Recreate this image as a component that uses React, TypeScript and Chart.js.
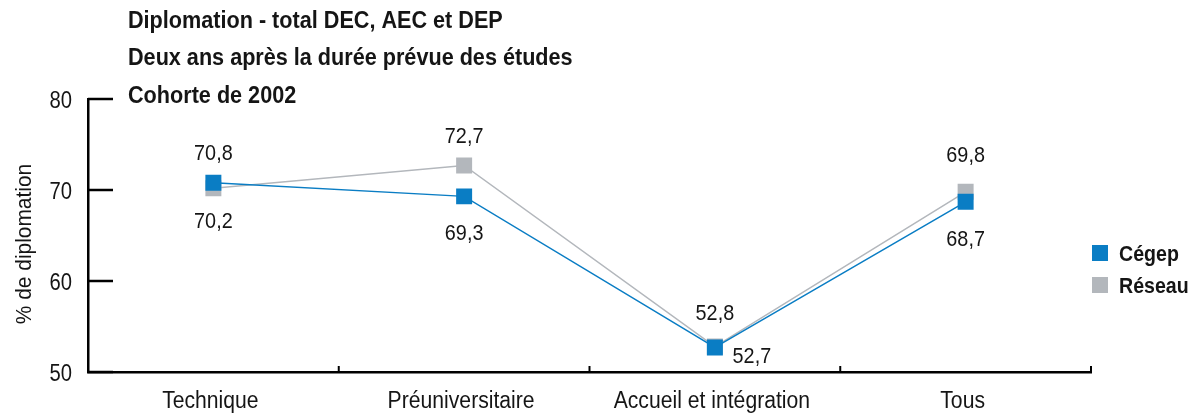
import React, { useEffect, useRef } from 'react';
import { Chart, registerables } from 'chart.js';

Chart.register(...registerables);

const categories = ['Technique', 'Préuniversitaire', 'Accueil et intégration', 'Tous'];
const cegepValues = [70.8, 69.3, 52.7, 68.7];
const reseauValues = [70.2, 72.7, 52.8, 69.8];
const yTicks = [50, 60, 70, 80];
const seriesNames = ['Cégep', 'Réseau'];
const titleLines = [
  'Diplomation - total DEC, AEC et DEP',
  'Deux ans après la durée prévue des études',
  'Cohorte de 2002',
];
const yAxisTitle = '% de diplomation';

const BLUE = '#0a7dc4';
const GREY = '#b3b7bc';
const TEXT = '#151515';
const FONT = '"Liberation Sans", Arial, sans-serif';

// label offsets (dx, dy) of the label centre relative to each point
const cegepLabelOffsets = [[0, -31], [0, 36], [37, 8], [0, 36]];
const reseauLabelOffsets = [[0, 32], [0, -30], [0, -35], [0, -38]];

const fmt = (v: number) => v.toFixed(1).replace('.', ',');

function drawText(
  ctx: CanvasRenderingContext2D,
  text: string,
  x: number,
  y: number,
  font: string,
  sx: number,
  align: CanvasTextAlign,
) {
  ctx.save();
  ctx.font = font;
  ctx.textAlign = align;
  ctx.textBaseline = 'alphabetic';
  ctx.fillStyle = TEXT;
  ctx.translate(x, y);
  ctx.scale(sx, 1);
  ctx.fillText(text, 0, 0);
  ctx.restore();
}

const decorPlugin = {
  id: 'decor',
  afterDraw(chart: any) {
    const { ctx, chartArea, scales } = chart;
    const x = scales.x;
    const y = scales.y;
    ctx.save();
    // inner y ticks
    ctx.strokeStyle = '#000';
    ctx.lineWidth = 2.5;
    yTicks.forEach((t) => {
      const py = Math.round(y.getPixelForValue(t));
      ctx.beginPath();
      ctx.moveTo(chartArea.left, py);
      ctx.lineTo(chartArea.left + 25, py);
      ctx.stroke();
    });
    // inner x ticks at category boundaries
    ctx.lineWidth = 2;
    const step = x.getPixelForValue(1) - x.getPixelForValue(0);
    for (let i = 0; i < categories.length; i++) {
      const px = x.getPixelForValue(i) + step / 2;
      ctx.beginPath();
      ctx.moveTo(px, chartArea.bottom);
      ctx.lineTo(px, chartArea.bottom - 6);
      ctx.stroke();
    }
    ctx.restore();

    // y tick labels
    yTicks.forEach((t) => {
      drawText(ctx, String(t), chartArea.left - 16, y.getPixelForValue(t) + 8.5, `23px ${FONT}`, 0.88, 'right');
    });
    // x category labels
    categories.forEach((c, i) => {
      drawText(ctx, c, x.getPixelForValue(i) - 3, chartArea.bottom + 36, `23px ${FONT}`, 0.92, 'center');
    });

    // data labels
    const drawLabels = (dsIndex: number, values: number[], offs: number[][]) => {
      const meta = chart.getDatasetMeta(dsIndex);
      meta.data.forEach((pt: any, i: number) => {
        drawText(ctx, fmt(values[i]), pt.x + offs[i][0], pt.y + offs[i][1] + 8, `22px ${FONT}`, 0.9, 'center');
      });
    };
    drawLabels(0, cegepValues, cegepLabelOffsets);
    drawLabels(1, reseauValues, reseauLabelOffsets);

    // title
    const baselines = [28, 65, 103];
    titleLines.forEach((line, i) => drawText(ctx, line, 128, baselines[i], `bold 23px ${FONT}`, 0.94, 'left'));

    // y axis title
    ctx.save();
    ctx.translate(31, 244);
    ctx.rotate(-Math.PI / 2);
    drawText(ctx, yAxisTitle, 0, 0, `22px ${FONT}`, 0.95, 'center');
    ctx.restore();

    // legend
    const colors = [BLUE, GREY];
    const legendY = [253, 285];
    seriesNames.forEach((name, i) => {
      ctx.fillStyle = colors[i];
      ctx.fillRect(1092, legendY[i] - 8, 16, 16);
      drawText(ctx, name, 1119, legendY[i] + 8, `bold 22px ${FONT}`, 0.89, 'left');
    });
  },
};

export default function App() {
  const ref = useRef<HTMLCanvasElement>(null);
  useEffect(() => {
    if (!ref.current) return;
    const chart = new Chart(ref.current, {
      type: 'line',
      data: {
        labels: categories,
        datasets: [
          {
            label: seriesNames[0],
            data: cegepValues,
            borderColor: BLUE,
            backgroundColor: BLUE,
            borderWidth: 1.5,
            pointStyle: 'rect',
            pointRadius: 11.3,
            pointHoverRadius: 11.3,
            pointBorderWidth: 0,
            pointBackgroundColor: BLUE,
            tension: 0,
          },
          {
            label: seriesNames[1],
            data: reseauValues,
            borderColor: GREY,
            backgroundColor: GREY,
            borderWidth: 1.5,
            pointStyle: 'rect',
            pointRadius: 11.3,
            pointHoverRadius: 11.3,
            pointBorderWidth: 0,
            pointBackgroundColor: GREY,
            tension: 0,
          },
        ],
      },
      options: {
        animation: false,
        responsive: false,
        devicePixelRatio: 1,
        layout: { padding: { left: 0, right: 105, top: 99, bottom: 0 } },
        plugins: {
          legend: { display: false },
          tooltip: { enabled: false },
          title: { display: false },
        },
        scales: {
          x: {
            type: 'category',
            offset: true,
            grid: { display: false },
            border: { display: true, color: '#000', width: 2.5 },
            ticks: { display: false },
            afterFit: (s: any) => { s.height = 47; },
          },
          y: {
            min: 50,
            max: 80,
            afterBuildTicks: (s: any) => { s.ticks = yTicks.map((v) => ({ value: v })); },
            grid: { display: false },
            border: { display: true, color: '#000', width: 2.5 },
            ticks: { display: false },
            afterFit: (s: any) => { s.width = 88; },
          },
        },
      },
      plugins: [decorPlugin],
    });
    return () => chart.destroy();
  }, []);
  return (
    <div style={{ position: 'fixed', left: 0, top: 0, width: 1196, height: 419, background: '#fff' }}>
      <canvas ref={ref} width={1196} height={419} style={{ width: 1196, height: 419 }} />
    </div>
  );
}
